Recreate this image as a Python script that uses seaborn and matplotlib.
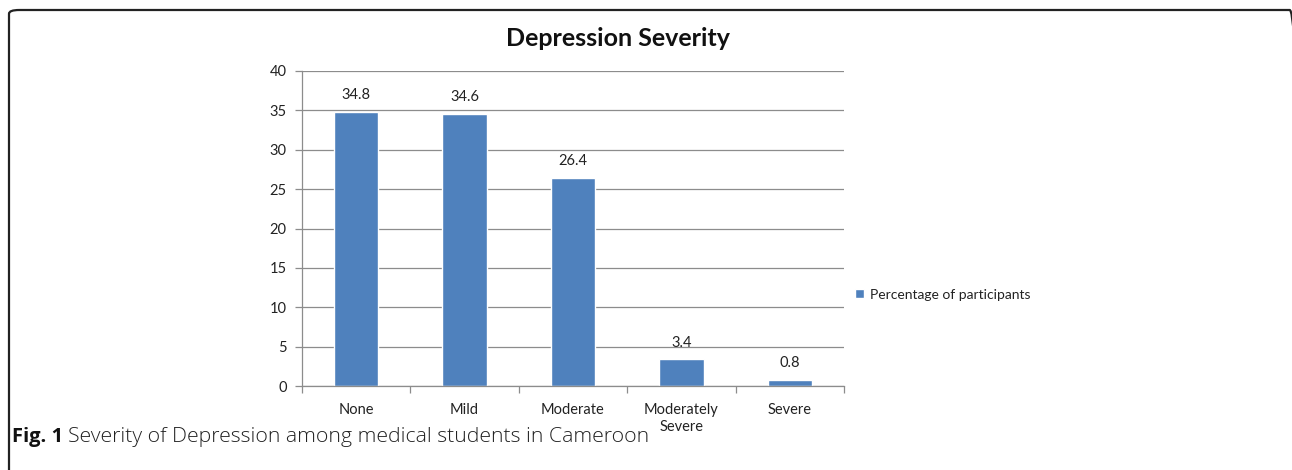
import matplotlib
matplotlib.use("Agg")
import matplotlib.pyplot as plt
import seaborn as sns
import pandas as pd
from matplotlib.patches import FancyBboxPatch

categories = ["None", "Mild", "Moderate", "Moderately\nSevere", "Severe"]
values = [34.8, 34.6, 26.4, 3.4, 0.8]
value_labels = ["34.8", "34.6", "26.4", "3.4", "0.8"]
series_name = "Percentage of participants"
yticks = [0, 5, 10, 15, 20, 25, 30, 35, 40]

sns.set_theme(style="white")
plt.rcParams['font.family'] = ['Lato', 'DejaVu Sans']

W, H = 1292, 470
fig = plt.figure(figsize=(W / 100, H / 100), dpi=100)
fig.patch.set_facecolor("white")

# border box
box = FancyBboxPatch((9 / W, -20 / H), (1300 - 9) / W, (460 + 20) / H,
                     boxstyle="round,pad=0,rounding_size=0.008",
                     transform=fig.transFigure, facecolor="none",
                     edgecolor="#222222", linewidth=1.6, clip_on=False)
fig.patches.append(box)

ax = fig.add_axes([302 / W, 1 - 386 / H, (844 - 302) / W, (386 - 71) / H])
df = pd.DataFrame({"cat": categories, "val": values})
sns.barplot(data=df, x="cat", y="val", color="#4F81BD", saturation=1,
            width=0.41, ax=ax, label=series_name)

ax.set_ylim(0, 40)
ax.set_yticks(yticks)
ax.set_xlim(-0.5, len(categories) - 0.5)
ax.yaxis.grid(True, color="#8c8c8c", linewidth=0.9)
ax.set_axisbelow(True)
for s in ["top", "right"]:
    ax.spines[s].set_visible(False)
for s in ["left", "bottom"]:
    ax.spines[s].set_color("#8c8c8c")
    ax.spines[s].set_linewidth(0.9)
ax.set_xlabel("")
ax.set_ylabel("")
ax.tick_params(axis="y", which="major", length=5, color="#8c8c8c", width=0.9,
               labelsize=10.5, labelcolor="#222222", pad=6, left=True)
ax.tick_params(axis="x", which="major", length=0, labelsize=10.5,
               labelcolor="#222222", pad=12)
ax.set_xticks(range(len(categories)))
ax.set_xticklabels(categories, linespacing=1.3)
ax.set_xticks([i - 0.5 for i in range(len(categories) + 1)], minor=True)
ax.tick_params(axis="x", which="minor", length=5, color="#8c8c8c", width=0.9,
               bottom=True)

for c, lab in zip(ax.containers, [value_labels]):
    ax.bar_label(c, labels=lab, padding=7, fontsize=10.5, color="#222222")

leg = ax.legend(loc="center left", bbox_to_anchor=(0.995, 0.29), frameon=False,
                handlelength=0.65, handleheight=0.65, handletextpad=0.4,
                fontsize=10, borderaxespad=0.6)
for t in leg.get_texts():
    t.set_color("#222222")

fig.text(618 / W, 1 - 38 / H, "Depression Severity", ha="center", va="center",
         fontsize=18, fontweight="bold", color="#111111")

fig.text(12 / W, 1 - 442 / H, "Fig. 1", ha="left", va="baseline",
         fontsize=14.5, fontweight="bold", color="#111111",
         family=["Open Sans", "DejaVu Sans"])
fig.text(68 / W, 1 - 442 / H, "Severity of Depression among medical students in Cameroon",
         ha="left", va="baseline", fontsize=15.3, color="#222222",
         fontweight="light", family=["Open Sans", "DejaVu Sans"])

fig.savefig("out.png", dpi=100, facecolor="white")
